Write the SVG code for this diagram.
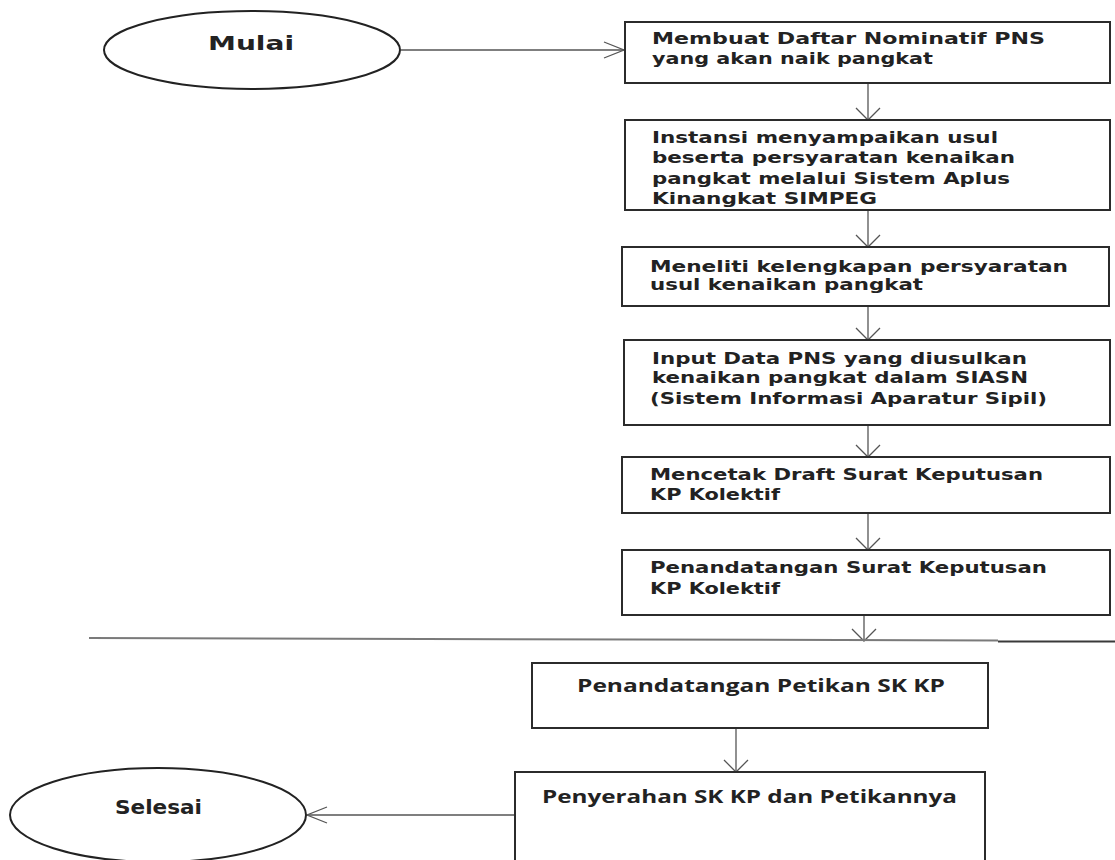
<svg xmlns="http://www.w3.org/2000/svg" width="1115" height="860" viewBox="0 0 1115 860">
  <defs>
    <!-- open V heads: wide one for the vertical flow, slim one for the side links -->
    <marker id="vhead" markerUnits="userSpaceOnUse" markerWidth="30" markerHeight="30" refX="0" refY="0" viewBox="-15 -15 30 30" orient="auto" overflow="visible">
      <path d="M-12,-12 L0,0 L-12,12" fill="none" stroke="#555" stroke-width="1.3"/>
    </marker>
    <marker id="hhead" markerUnits="userSpaceOnUse" markerWidth="30" markerHeight="30" refX="0" refY="0" viewBox="-25 -15 30 30" orient="auto" overflow="visible">
      <path d="M-20,-8 L0,0 L-20,8" fill="none" stroke="#555" stroke-width="1.3"/>
    </marker>
    <style>
      .box { fill: #fff; stroke: #2b2b2b; stroke-width: 2; }
      .term { fill: #fff; stroke: #222; stroke-width: 2; }
      .step { font-family: "DejaVu Sans", "Liberation Sans", sans-serif; font-weight: bold; font-size: 15px; fill: #222; }
      .term-label { font-family: "DejaVu Sans", "Liberation Sans", sans-serif; font-weight: bold; font-size: 19px; fill: #222; }
      .step2 { font-family: "Open Sans", "Liberation Sans", sans-serif; font-weight: 700; font-size: 18px; fill: #222; }
      .link { fill: none; stroke: #555; stroke-width: 1.3; }
    </style>
  </defs>
  <rect width="1115" height="860" fill="#fff"/>

  <!-- connectors -->
  <g id="connectors">
    <line class="link" x1="401" y1="50" x2="624" y2="50" marker-end="url(#hhead)"/>
    <line class="link" x1="868" y1="83" x2="868" y2="120" marker-end="url(#vhead)"/>
    <line class="link" x1="868" y1="210" x2="868" y2="247" marker-end="url(#vhead)"/>
    <line class="link" x1="868" y1="306" x2="868" y2="340" marker-end="url(#vhead)"/>
    <line class="link" x1="868" y1="425" x2="868" y2="457" marker-end="url(#vhead)"/>
    <line class="link" x1="868" y1="513" x2="868" y2="550" marker-end="url(#vhead)"/>
    <line class="link" x1="864" y1="615" x2="864" y2="641" marker-end="url(#vhead)"/>
    <line class="link" x1="736" y1="728" x2="736" y2="772" marker-end="url(#vhead)"/>
    <line class="link" x1="515" y1="815" x2="307" y2="815" marker-end="url(#hhead)"/>
  </g>

  <!-- page break rule -->
  <g id="page-break">
    <line x1="89" y1="638" x2="998" y2="640.5" stroke="#7a7a7a" stroke-width="2"/>
    <line x1="998" y1="641.5" x2="1115" y2="641.5" stroke="#3a3a3a" stroke-width="2"/>
  </g>

  <g id="start">
    <ellipse class="term" cx="252" cy="50" rx="148" ry="39"/>
    <text class="term-label" x="208" y="50" textLength="86" lengthAdjust="spacingAndGlyphs">Mulai</text>
  </g>

  <g id="step1">
    <rect class="box" x="625" y="22" width="485" height="61"/>
    <text class="step" x="652" y="44" textLength="393" lengthAdjust="spacingAndGlyphs">Membuat Daftar Nominatif PNS</text>
    <text class="step" x="652" y="64" textLength="281" lengthAdjust="spacingAndGlyphs">yang akan naik pangkat</text>
  </g>

  <g id="step2">
    <rect class="box" x="625" y="120" width="485" height="90"/>
    <text class="step" x="652" y="143" textLength="346" lengthAdjust="spacingAndGlyphs">Instansi menyampaikan usul</text>
    <text class="step" x="652" y="163" textLength="363" lengthAdjust="spacingAndGlyphs">beserta persyaratan kenaikan</text>
    <text class="step" x="652" y="184" textLength="358" lengthAdjust="spacingAndGlyphs">pangkat melalui Sistem Aplus</text>
    <text class="step" x="652" y="204" textLength="225" lengthAdjust="spacingAndGlyphs">Kinangkat SIMPEG</text>
  </g>

  <g id="step3">
    <rect class="box" x="622" y="247" width="487" height="59"/>
    <text class="step" x="650" y="272" textLength="418" lengthAdjust="spacingAndGlyphs">Meneliti kelengkapan persyaratan</text>
    <text class="step" x="650" y="290" textLength="273" lengthAdjust="spacingAndGlyphs">usul kenaikan pangkat</text>
  </g>

  <g id="step4">
    <rect class="box" x="624" y="340" width="486" height="85"/>
    <text class="step" x="652" y="364" textLength="375" lengthAdjust="spacingAndGlyphs">Input Data PNS yang diusulkan</text>
    <text class="step" x="652" y="383" textLength="376" lengthAdjust="spacingAndGlyphs">kenaikan pangkat dalam SIASN</text>
    <text class="step" x="650" y="404" textLength="397" lengthAdjust="spacingAndGlyphs">(Sistem Informasi Aparatur Sipil)</text>
  </g>

  <g id="step5">
    <rect class="box" x="622" y="457" width="488" height="56"/>
    <text class="step" x="650" y="480" textLength="393" lengthAdjust="spacingAndGlyphs">Mencetak Draft Surat Keputusan</text>
    <text class="step" x="650" y="500" textLength="130" lengthAdjust="spacingAndGlyphs">KP Kolektif</text>
  </g>

  <g id="step6">
    <rect class="box" x="622" y="550" width="488" height="65"/>
    <text class="step" x="650" y="573" textLength="397" lengthAdjust="spacingAndGlyphs">Penandatangan Surat Keputusan</text>
    <text class="step" x="650" y="594" textLength="130" lengthAdjust="spacingAndGlyphs">KP Kolektif</text>
  </g>

  <g id="step7">
    <rect class="box" x="532" y="663" width="456" height="65"/>
    <text class="step2" x="577" y="692" textLength="368" lengthAdjust="spacingAndGlyphs">Penandatangan Petikan SK KP</text>
  </g>

  <g id="step8">
    <rect class="box" x="515" y="772" width="470" height="110"/>
    <text class="step2" x="542" y="803" textLength="415" lengthAdjust="spacingAndGlyphs">Penyerahan SK KP dan Petikannya</text>
  </g>

  <g id="end">
    <ellipse class="term" cx="158" cy="815" rx="148" ry="47"/>
    <text class="term-label" x="115" y="814" textLength="87" lengthAdjust="spacingAndGlyphs">Selesai</text>
  </g>
</svg>
